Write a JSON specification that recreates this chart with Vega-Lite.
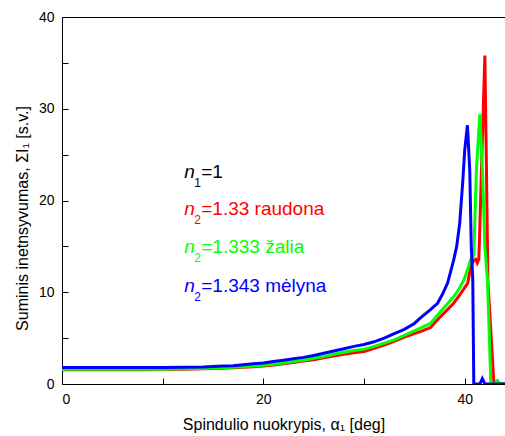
{
  "$schema": "https://vega.github.io/schema/vega-lite/v6.json",
  "autosize": {"type": "none"},
  "width": 443,
  "height": 367,
  "padding": {"left": 62, "top": 17, "right": 0, "bottom": 52},
  "config": {
    "font": "Liberation Sans",
    "view": {"stroke": "black", "strokeWidth": 1},
    "axis": {"grid": false, "domainColor": "black", "tickColor": "black", "labelColor": "black", "titleColor": "black", "labelFontSize": 14, "titleFontSize": 16, "titleFontWeight": "normal", "labelFont": "Liberation Sans", "titleFont": "Liberation Sans"}
  },
  "datasets": {
    "curves": [
      {"a": 0, "I": 1.55, "s": "r"}, {"a": 4, "I": 1.55, "s": "r"}, {"a": 8, "I": 1.55, "s": "r"}, {"a": 10, "I": 1.57, "s": "r"}, {"a": 12, "I": 1.6, "s": "r"}, {"a": 14, "I": 1.65, "s": "r"}, {"a": 16, "I": 1.72, "s": "r"}, {"a": 18, "I": 1.82, "s": "r"}, {"a": 19, "I": 1.88, "s": "r"}, {"a": 20, "I": 1.97, "s": "r"}, {"a": 21, "I": 2.07, "s": "r"}, {"a": 22, "I": 2.2, "s": "r"}, {"a": 23, "I": 2.35, "s": "r"}, {"a": 24, "I": 2.5, "s": "r"}, {"a": 25, "I": 2.65, "s": "r"}, {"a": 26, "I": 2.85, "s": "r"}, {"a": 27, "I": 3.05, "s": "r"}, {"a": 28, "I": 3.25, "s": "r"}, {"a": 29, "I": 3.4, "s": "r"}, {"a": 30, "I": 3.55, "s": "r"}, {"a": 31, "I": 3.9, "s": "r"}, {"a": 32, "I": 4.25, "s": "r"}, {"a": 33, "I": 4.65, "s": "r"}, {"a": 34, "I": 5.1, "s": "r"}, {"a": 35, "I": 5.5, "s": "r"}, {"a": 35.6, "I": 5.7, "s": "r"}, {"a": 36.6, "I": 6.15, "s": "r"}, {"a": 37.3, "I": 7.0, "s": "r"}, {"a": 38, "I": 7.8, "s": "r"}, {"a": 38.9, "I": 8.8, "s": "r"}, {"a": 39.5, "I": 9.7, "s": "r"}, {"a": 40.0, "I": 10.5, "s": "r"}, {"a": 40.3, "I": 11.0, "s": "r"}, {"a": 40.6, "I": 12.8, "s": "r"}, {"a": 40.9, "I": 13.5, "s": "r"}, {"a": 41.1, "I": 13.6, "s": "r"}, {"a": 41.25, "I": 13.2, "s": "r"}, {"a": 41.4, "I": 13.6, "s": "r"}, {"a": 41.5, "I": 17, "s": "r"}, {"a": 41.66, "I": 23.3, "s": "r"}, {"a": 42.0, "I": 35.8, "s": "r"}, {"a": 42.16, "I": 23.3, "s": "r"}, {"a": 42.3, "I": 11.3, "s": "r"}, {"a": 42.9, "I": 0, "s": "r"}, {"a": 43.2, "I": 0.3, "s": "r"}, {"a": 43.5, "I": 0, "s": "r"}, {"a": 44, "I": 0, "s": "r"},
      {"a": 0, "I": 1.6, "s": "g"}, {"a": 4, "I": 1.6, "s": "g"}, {"a": 8, "I": 1.6, "s": "g"}, {"a": 10, "I": 1.62, "s": "g"}, {"a": 12, "I": 1.65, "s": "g"}, {"a": 14, "I": 1.7, "s": "g"}, {"a": 16, "I": 1.78, "s": "g"}, {"a": 18, "I": 1.88, "s": "g"}, {"a": 19, "I": 1.95, "s": "g"}, {"a": 20, "I": 2.05, "s": "g"}, {"a": 21, "I": 2.15, "s": "g"}, {"a": 22, "I": 2.3, "s": "g"}, {"a": 23, "I": 2.45, "s": "g"}, {"a": 24, "I": 2.6, "s": "g"}, {"a": 25, "I": 2.8, "s": "g"}, {"a": 26, "I": 3.0, "s": "g"}, {"a": 27, "I": 3.25, "s": "g"}, {"a": 28, "I": 3.45, "s": "g"}, {"a": 29, "I": 3.65, "s": "g"}, {"a": 30, "I": 3.8, "s": "g"}, {"a": 31, "I": 4.1, "s": "g"}, {"a": 32, "I": 4.45, "s": "g"}, {"a": 33, "I": 4.8, "s": "g"}, {"a": 34, "I": 5.3, "s": "g"}, {"a": 35, "I": 5.8, "s": "g"}, {"a": 35.6, "I": 6.1, "s": "g"}, {"a": 36.6, "I": 6.6, "s": "g"}, {"a": 37.3, "I": 7.5, "s": "g"}, {"a": 38, "I": 8.4, "s": "g"}, {"a": 38.9, "I": 9.5, "s": "g"}, {"a": 39.4, "I": 10.3, "s": "g"}, {"a": 39.9, "I": 11.3, "s": "g"}, {"a": 40.3, "I": 12.5, "s": "g"}, {"a": 40.6, "I": 13.6, "s": "g"}, {"a": 40.9, "I": 14.0, "s": "g"}, {"a": 41.16, "I": 23.3, "s": "g"}, {"a": 41.5, "I": 29.4, "s": "g"}, {"a": 41.76, "I": 23.3, "s": "g"}, {"a": 42.0, "I": 15, "s": "g"}, {"a": 42.26, "I": 11.3, "s": "g"}, {"a": 42.6, "I": 0, "s": "g"}, {"a": 43.0, "I": 0, "s": "g"}, {"a": 43.25, "I": 0.35, "s": "g"}, {"a": 43.5, "I": 0, "s": "g"}, {"a": 44, "I": 0, "s": "g"},
      {"a": 0, "I": 1.8, "s": "b"}, {"a": 4, "I": 1.8, "s": "b"}, {"a": 8, "I": 1.8, "s": "b"}, {"a": 10, "I": 1.8, "s": "b"}, {"a": 12, "I": 1.82, "s": "b"}, {"a": 14, "I": 1.85, "s": "b"}, {"a": 15, "I": 1.9, "s": "b"}, {"a": 16, "I": 1.95, "s": "b"}, {"a": 17, "I": 2.0, "s": "b"}, {"a": 18, "I": 2.1, "s": "b"}, {"a": 19, "I": 2.2, "s": "b"}, {"a": 20, "I": 2.3, "s": "b"}, {"a": 21, "I": 2.45, "s": "b"}, {"a": 22, "I": 2.6, "s": "b"}, {"a": 23, "I": 2.75, "s": "b"}, {"a": 24, "I": 2.9, "s": "b"}, {"a": 25, "I": 3.1, "s": "b"}, {"a": 26, "I": 3.35, "s": "b"}, {"a": 27, "I": 3.6, "s": "b"}, {"a": 28, "I": 3.85, "s": "b"}, {"a": 29, "I": 4.1, "s": "b"}, {"a": 30, "I": 4.3, "s": "b"}, {"a": 31, "I": 4.6, "s": "b"}, {"a": 32, "I": 5.0, "s": "b"}, {"a": 33, "I": 5.5, "s": "b"}, {"a": 34, "I": 5.95, "s": "b"}, {"a": 35, "I": 6.6, "s": "b"}, {"a": 35.6, "I": 7.2, "s": "b"}, {"a": 36.6, "I": 8.1, "s": "b"}, {"a": 37.3, "I": 8.8, "s": "b"}, {"a": 37.8, "I": 9.8, "s": "b"}, {"a": 38.3, "I": 11.0, "s": "b"}, {"a": 38.9, "I": 13.5, "s": "b"}, {"a": 39.2, "I": 15.0, "s": "b"}, {"a": 39.5, "I": 17.5, "s": "b"}, {"a": 39.8, "I": 22.0, "s": "b"}, {"a": 40.0, "I": 25.5, "s": "b"}, {"a": 40.27, "I": 28.2, "s": "b"}, {"a": 40.5, "I": 23.3, "s": "b"}, {"a": 40.65, "I": 15, "s": "b"}, {"a": 40.8, "I": 11.3, "s": "b"}, {"a": 40.9, "I": 0, "s": "b"}, {"a": 41.5, "I": 0, "s": "b"}, {"a": 41.75, "I": 0.6, "s": "b"}, {"a": 42.0, "I": 0, "s": "b"}, {"a": 44, "I": 0, "s": "b"}
    ],
    "labels": [
      {"a": 12.14, "I": 22.4, "n": "n", "sub": "1", "rest": "=1", "s": "k"},
      {"a": 12.14, "I": 18.4, "n": "n", "sub": "2", "rest": "=1.33 raudona", "s": "r"},
      {"a": 12.14, "I": 14.25, "n": "n", "sub": "2", "rest": "=1.333 žalia", "s": "g"},
      {"a": 12.14, "I": 10.07, "n": "n", "sub": "2", "rest": "=1.343 mėlyna", "s": "b"}
    ]
  },
  "encoding": {
    "x": {"field": "a", "type": "quantitative", "scale": {"domain": [0, 44], "nice": false, "zero": false}},
    "y": {"field": "I", "type": "quantitative", "scale": {"domain": [0, 40], "nice": false}},
    "color": {"field": "s", "type": "nominal", "legend": null, "scale": {"domain": ["r", "g", "b", "k"], "range": ["#ff0000", "#00ff00", "#0000ff", "#000000"]}}
  },
  "resolve": {"axis": {"x": "independent"}},
  "layer": [
    {
      "data": {"name": "curves"},
      "mark": {"type": "line", "strokeWidth": 3, "clip": true, "interpolate": "linear"},
      "encoding": {
        "x": {"field": "a", "type": "quantitative", "title": "Spindulio nuokrypis, α₁ [deg]",
          "axis": {"values": [0, 10, 20, 30, 40], "labelExpr": "datum.value % 20 == 0 ? datum.label : ''", "tickSize": -6, "labelPadding": 14, "titlePadding": 10, "domain": false}},
        "y": {"field": "I", "type": "quantitative", "title": "Suminis inetnsyvumas, ΣI₁ [s.v.]",
          "axis": {"values": [0, 5, 10, 15, 20, 25, 30, 35, 40], "labelExpr": "datum.value % 10 == 0 ? datum.label : ''", "tickSize": -6, "labelPadding": 14, "titlePadding": 8, "titleY": 201, "domain": false}}
      }
    },
    {
      "data": {"name": "labels"},
      "layer": [
        {
          "mark": {"type": "text", "align": "left", "baseline": "alphabetic", "fontSize": 19, "fontStyle": "italic", "font": "Liberation Sans"},
          "encoding": {
            "text": {"field": "n"},
            "x": {"field": "a", "type": "quantitative", "axis": {"orient": "top", "values": [0, 10, 20, 30, 40], "labels": false, "title": null, "tickSize": -6, "domain": false}}
          }
        },
        {
          "mark": {"type": "text", "align": "left", "baseline": "alphabetic", "fontSize": 12, "dx": 10, "dy": 9, "font": "Liberation Sans"},
          "encoding": {"text": {"field": "sub"}, "x": {"field": "a", "type": "quantitative", "axis": null}}
        },
        {
          "mark": {"type": "text", "align": "left", "baseline": "alphabetic", "fontSize": 19, "dx": 17, "font": "Liberation Sans"},
          "encoding": {"text": {"field": "rest"}, "x": {"field": "a", "type": "quantitative", "axis": null}}
        }
      ]
    }
  ]
}
